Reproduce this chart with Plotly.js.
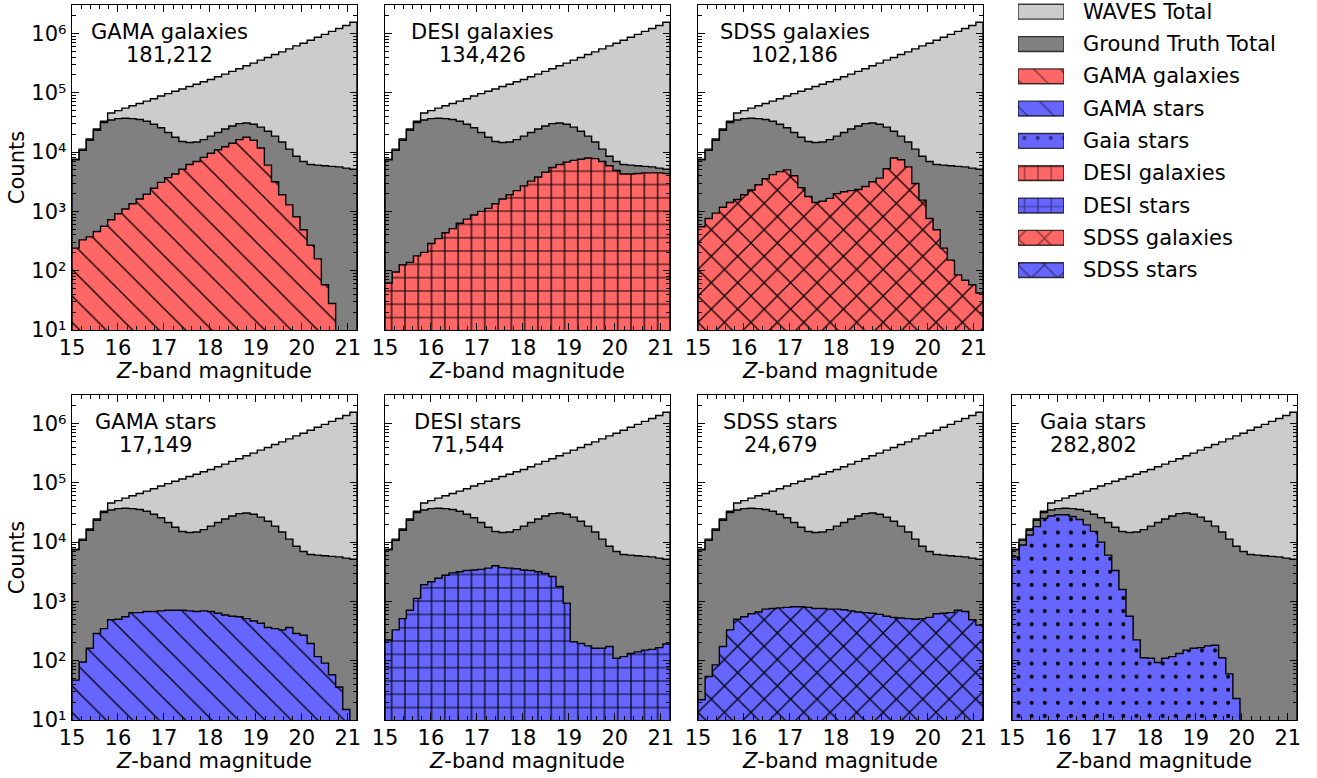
<!DOCTYPE html>
<html><head><meta charset="utf-8">
<script src="https://cdn.plot.ly/plotly-3.0.1.min.js"></script>
<style>html,body{margin:0;padding:0;background:#fff;}#chart{width:1317px;height:778px;}</style>
</head><body><div id="chart"></div>
<script>
// ---------- data: counts per magnitude bin (40 bins from 15.0 to 21.2) ----------
const binStart = 15.0;
const binWidth = 0.155;
const wavesTotal = [7600,11200,16600,24500,33100,45700,50100,55000,60300,66100,72400,79400,88100,96600,105900,116100,127400,139600,153100,167900,186200,206500,229100,254100,285100,316200,354800,393600,441600,489800,549500,616600,683900,767400,861000,966100,1084000,1216000,1365000,1549000];
const groundTruthTotal = [7410,10700,15800,23400,31600,34700,36700,37200,36700,35500,33100,29500,25700,21400,17800,15100,14500,14800,16200,18600,21400,24500,27500,30200,30900,29500,26300,22400,18600,14800,11200,8510,6920,6170,6030,5890,5750,5620,5370,5130];
const gamaGalaxies = [240,331,372,457,562,724,912,1096,1349,1622,1950,2455,3090,3715,4266,5129,6166,6918,8128,9550,10960,12300,14130,16220,17780,15850,11750,6026,3162,1905,1288,813,490,269,158,58,28,0,0,0];
const desiGalaxies = [62,95,126,138,178,204,288,347,437,513,631,741,871,1000,1122,1349,1622,1905,2239,2692,3236,3802,4571,5495,6166,6761,7244,7586,7943,7762,6918,5888,4898,4266,4266,4365,4467,4467,4467,4365];
const sdssGalaxies = [550,759,933,1175,1413,1585,1905,2291,2818,3548,4169,4677,5012,3981,2512,1778,1413,1479,1660,1995,2138,2239,2344,2630,3162,3631,5248,7943,7413,5623,2951,1549,759,490,240,151,85,69,58,42];
const gamaStars = [47,95,162,288,347,490,501,550,646,646,676,676,692,708,708,708,692,676,692,676,631,589,562,550,513,468,427,363,347,331,363,288,269,195,117,91,58,36,15,0];
const desiStars = [224,331,513,708,1122,1905,2138,2455,2754,3020,3162,3311,3388,3467,3631,3981,3715,3631,3548,3388,3311,3162,2951,2630,1778,933,209,195,178,162,162,174,110,117,132,141,151,155,166,191];
const sdssStars = [22,54,85,174,331,501,550,617,661,741,759,776,794,813,813,794,759,759,741,741,724,692,661,646,631,603,562,537,525,513,501,513,537,617,631,646,708,676,490,398];
const gaiaStars = [5623,8913,13180,18200,25120,27540,28840,28840,26920,23990,19500,15140,10000,6026,3311,1585,562,224,112,110,93,110,117,132,151,162,166,178,182,112,60,23,0,0,0,0,0,0,0,0];

const panelLabels = ['GAMA galaxies','DESI galaxies','SDSS galaxies','GAMA stars','DESI stars','SDSS stars','Gaia stars'];
const panelTotals = ['181,212','134,426','102,186','17,149','71,544','24,679','282,802'];
const legendLabels = ['WAVES Total','Ground Truth Total','GAMA galaxies','GAMA stars','Gaia stars','DESI galaxies','DESI stars','SDSS galaxies','SDSS stars'];
const xTickVals = [15,16,17,18,19,20,21];
const yTickVals = [1e1,1e2,1e3,1e4,1e5,1e6];
const yTickText = ['10¹','10²','10³','10⁴','10⁵','10⁶'];

// ---------- styling ----------
const W = 1317, H = 778;
const FONT = 'DejaVu Sans, Liberation Sans, sans-serif';
const RED = '#ff6666', BLUE = '#6666ff', LIGHT = '#cccccc', DARK = '#808080';
const subsets = [gamaGalaxies, desiGalaxies, sdssGalaxies, gamaStars, desiStars, sdssStars, gaiaStars];
const hatch = {
  gama: {shape:'\\', size:18.7, solidity:0.07},
  desi: {shape:'+', size:13.3, solidity:0.17},
  sdss: {shape:'x', size:18.7, solidity:0.13},
  gaia: {shape:'.', size:13.1, solidity:0.075}
};
const panelStyle = [
  {color:RED, h:hatch.gama, col:0, row:0, lx:169},
  {color:RED, h:hatch.desi, col:1, row:0, lx:482},
  {color:RED, h:hatch.sdss, col:2, row:0, lx:795},
  {color:BLUE, h:hatch.gama, col:0, row:1, lx:155},
  {color:BLUE, h:hatch.desi, col:1, row:1, lx:467},
  {color:BLUE, h:hatch.sdss, col:2, row:1, lx:780},
  {color:BLUE, h:hatch.gaia, col:3, row:1, lx:1093}
];
const colLeft = [72, 385, 698, 1012], pw = 285;
const rowTop = [5, 395], ph = 325;
const FLOOR = 1; // below the axis minimum, so an empty bin / the fill reaches the bottom

function stepOutline(vals) {
  const xs = [binStart], ys = [FLOOR];
  vals.forEach((v, i) => { xs.push(binStart + i * binWidth); ys.push(v > 0 ? v : FLOOR); });
  const last = ys[ys.length - 1];
  xs.push(binStart + vals.length * binWidth); ys.push(last);
  xs.push(binStart + vals.length * binWidth); ys.push(FLOOR);
  return {x: xs, y: ys};
}
function histTrace(vals, ax, fill, pat, name) {
  const s = stepOutline(vals);
  const t = {type:'scatter', mode:'lines', name:name, x:s.x, y:s.y, xaxis:'x'+ax, yaxis:'y'+ax,
    line:{shape:'hv', color:'#000', width:1.4}, fill:'toself', fillcolor:fill,
    hoverinfo:'skip', showlegend:false};
  if (pat) t.fillpattern = {shape:pat.shape, size:pat.size, solidity:pat.solidity, fgcolor:'#000', bgcolor:fill, fillmode:'replace'};
  return t;
}

const traces = [];
const layout = {width:W, height:H, margin:{l:0,r:0,t:0,b:0}, paper_bgcolor:'#fff', plot_bgcolor:'#fff',
  showlegend:false, font:{family:FONT, size:21, color:'#000'}, annotations:[]};
const minorVals = [];
for (let e = 1; e <= 6; e++) for (let m = 2; m <= 9; m++) minorVals.push(m * Math.pow(10, e));

panelStyle.forEach((p, k) => {
  const ax = k === 0 ? '' : String(k + 1);
  traces.push(histTrace(wavesTotal, ax, LIGHT, null, legendLabels[0]));
  traces.push(histTrace(groundTruthTotal, ax, DARK, null, legendLabels[1]));
  traces.push(histTrace(subsets[k], ax, p.color, p.h, panelLabels[k]));
  const x0 = colLeft[p.col], y0 = rowTop[p.row];
  layout['xaxis' + ax] = {domain:[x0 / W, (x0 + pw) / W], anchor:'y' + ax, range:[15, 21.2],
    tickmode:'array', tickvals:xTickVals, ticks:'inside', ticklen:7, tickwidth:1, tickcolor:'#000',
    mirror:'allticks', showline:true, linecolor:'#000', linewidth:1.3, showgrid:false, zeroline:false,
    tickfont:{family:FONT, size:21, color:'#000'}, ticklabelstandoff:-2,
    minor:{dtick:0.2, ticks:'inside', ticklen:4, tickcolor:'#000', showgrid:false},
    title:{text:'<i>Z</i>-band magnitude', font:{family:FONT, size:21, color:'#000'}, standoff:0}};
  const yax = {domain:[1 - (y0 + ph) / H, 1 - y0 / H], anchor:'x' + ax, type:'log', range:[1, 6.48],
    tickmode:'array', tickvals:yTickVals, ticktext:yTickText, ticks:'inside', ticklen:7, tickwidth:1, tickcolor:'#000',
    mirror:'allticks', showline:true, linecolor:'#000', linewidth:1.3, showgrid:false, zeroline:false,
    showticklabels: p.col === 0, tickfont:{family:FONT, size:21, color:'#000'},
    minor:{tickmode:'array', tickvals:minorVals, ticks:'inside', ticklen:4, tickcolor:'#000', showgrid:false}};
  if (p.col === 0) yax.title = {text:'Counts', font:{family:FONT, size:21, color:'#000'}, standoff:1};
  layout['yaxis' + ax] = yax;
  layout.annotations.push({xref:'paper', yref:'paper', x:p.lx / W, y:1 - (y0 + 27) / H, text:panelLabels[k],
    showarrow:false, xanchor:'center', yanchor:'middle', font:{family:FONT, size:21, color:'#000'}});
  layout.annotations.push({xref:'paper', yref:'paper', x:p.lx / W, y:1 - (y0 + 50) / H, text:panelTotals[k],
    showarrow:false, xanchor:'center', yanchor:'middle', font:{family:FONT, size:21, color:'#000'}});
});

// ---------- custom legend (patches drawn as bars on a hidden axis) ----------
const legColors = [LIGHT, DARK, RED, BLUE, BLUE, RED, BLUE, RED, BLUE];
const legHatch = [null, null, hatch.gama, hatch.gama, hatch.gaia, hatch.desi, hatch.desi, hatch.sdss, hatch.sdss];
legendLabels.forEach((lab, i) => {
  const t = {type:'bar', orientation:'h', x:[1], base:[0], y:[i], width:0.46, name:lab,
    xaxis:'x8', yaxis:'y8', hoverinfo:'skip', showlegend:false,
    marker:{color:legColors[i], line:{color:'rgba(0,0,0,0.75)', width:1.4}}};
  if (legHatch[i]) t.marker.pattern = {shape:legHatch[i].shape, size:legHatch[i].size, solidity:legHatch[i].solidity,
    fgcolor:'#000', bgcolor:legColors[i], fillmode:'overlay'};
  traces.push(t);
});
const legTop = 11.7, legStep = 32.3;
layout.xaxis8 = {domain:[1018 / W, 1064 / W], range:[0, 1], visible:false, anchor:'y8', fixedrange:true};
layout.yaxis8 = {domain:[1 - (legTop + legStep * 8.5) / H, 1 - (legTop - legStep * 0.35) / H],
  range:[8.5, -0.35], visible:false, anchor:'x8', fixedrange:true};
layout.barmode = 'overlay';
legendLabels.forEach((t, i) => layout.annotations.push({xref:'paper', yref:'y8', x:1081 / W, y:i, text:t,
  showarrow:false, xanchor:'left', yanchor:'middle', font:{family:FONT, size:21, color:'#000'}}));

Plotly.newPlot('chart', traces, layout, {displayModeBar:false, staticPlot:true});
</script></body></html>
